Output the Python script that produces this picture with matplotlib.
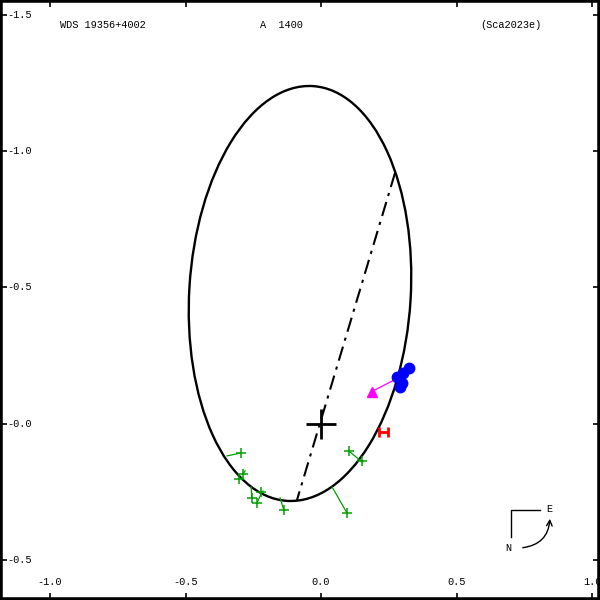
import numpy as np
import matplotlib
matplotlib.use("Agg")
import matplotlib.pyplot as plt
from matplotlib.patches import Ellipse

# apparent orbit (data units, arcsec)
ell_center = (-0.0775, -0.478)
ell_a = 0.7625
ell_b = 0.4086
ell_angle = 93.57

# line of nodes end points
node_x = [0.273, -0.0886]
node_y = [-0.920, 0.280]

# measures with O-C lines (green)
obs_x = [-0.295, -0.288, -0.303, -0.255, -0.236, -0.221, -0.137, 0.103, 0.151, 0.096]
obs_y = [0.107, 0.184, 0.203, 0.272, 0.291, 0.250, 0.317, 0.100, 0.137, 0.328]
calc_x = [-0.347, -0.280, -0.292, -0.258, -0.218, -0.214, -0.151, 0.151, 0.155, 0.041]
calc_y = [0.118, 0.173, 0.199, 0.232, 0.250, 0.247, 0.272, 0.140, 0.140, 0.232]

# recent measures (blue)
blue_x = [0.325, 0.303, 0.280, 0.299, 0.292]
blue_y = [-0.203, -0.186, -0.172, -0.150, -0.135]

# first measure (magenta)
mag_x = [0.265, 0.187]
mag_y = [-0.158, -0.118]

# red point
red_x = 0.230
red_y = 0.029

xticks = [-1.0, -0.5, 0.0, 0.5, 1.0]
xlabels = ["-1.0", "-0.5", "0.0", "0.5", "1.0"]
yticks = [-1.5, -1.0, -0.5, 0.0, 0.5]
ylabels = ["-1.5", "-1.0", "-0.5", "-0.0", "-0.5"]

font = "Liberation Mono"
fs = 7.4

fig = plt.figure(figsize=(6, 6), dpi=100)
ax = fig.add_axes([0, 0, 1, 1])
ax.set_xlim(-1.1845, 1.0295)
ax.set_ylim(0.6468, -1.555)

ax.add_patch(Ellipse(ell_center, 2 * ell_a, 2 * ell_b, angle=ell_angle,
                     fill=False, ec="black", lw=1.7))
ax.plot(node_x, node_y, color="black", lw=1.5, ls=(0, (7, 3, 1.5, 3)))

for i in range(len(obs_x)):
    ax.plot([obs_x[i], calc_x[i]], [obs_y[i], calc_y[i]], color="#00a000", lw=0.9)
ax.plot(obs_x, obs_y, "+", color="#00a000", ms=7, mew=1.1)

ax.plot(mag_x, mag_y, color="magenta", lw=0.9)
ax.plot(mag_x[1], mag_y[1], "^", color="magenta", ms=7, mec="magenta")

ax.plot(blue_x, blue_y, "o", color="blue", ms=7.5)

ax.errorbar(red_x, red_y, xerr=0.017, color="red", capsize=3.5, lw=2, capthick=2)

ax.plot(0, 0, "+", color="black", ms=22, mew=2)

ax.set_xticks(xticks)
ax.set_yticks(yticks)
ax.tick_params(direction="in", length=5, width=1.2, top=True, right=True,
               labelbottom=False, labelleft=False)
for s in ax.spines.values():
    s.set_linewidth(4)

for v, lab in zip(yticks, ylabels):
    ax.text(0.012, v, lab, transform=ax.get_yaxis_transform(), ha="left",
            va="center", fontsize=fs, family=font)
for v, lab in zip(xticks, xlabels):
    ax.text(v, 0.03, lab, transform=ax.get_xaxis_transform(), ha="center",
            va="center", fontsize=fs, family=font)

ax.text(60 / 600, 1 - 25 / 600, "WDS 19356+4002", transform=ax.transAxes,
        ha="left", va="center", fontsize=fs, family=font)
ax.text(260 / 600, 1 - 25 / 600, "A  1400", transform=ax.transAxes,
        ha="left", va="center", fontsize=fs, family=font)
ax.text(480 / 600, 1 - 25 / 600, "(Sca2023e)", transform=ax.transAxes,
        ha="left", va="center", fontsize=fs, family=font)

# compass
def px(x, y):
    return (x / 600, 1 - y / 600)

cx, cy = zip(px(511, 537), px(511, 510), px(540, 510))
ax.plot(cx, cy, color="black", lw=1, transform=ax.transAxes)
ax.text(*px(549, 509), "E", transform=ax.transAxes, ha="center", va="center",
        fontsize=fs, family=font)
ax.text(*px(508, 548), "N", transform=ax.transAxes, ha="center", va="center",
        fontsize=fs, family=font)
ax.annotate("", xy=px(550, 516), xytext=px(520, 548), xycoords="axes fraction",
            textcoords="axes fraction",
            arrowprops=dict(arrowstyle="->", color="black", lw=1,
                            connectionstyle="arc3,rad=0.45"))

fig.savefig("out.png", dpi=100)
